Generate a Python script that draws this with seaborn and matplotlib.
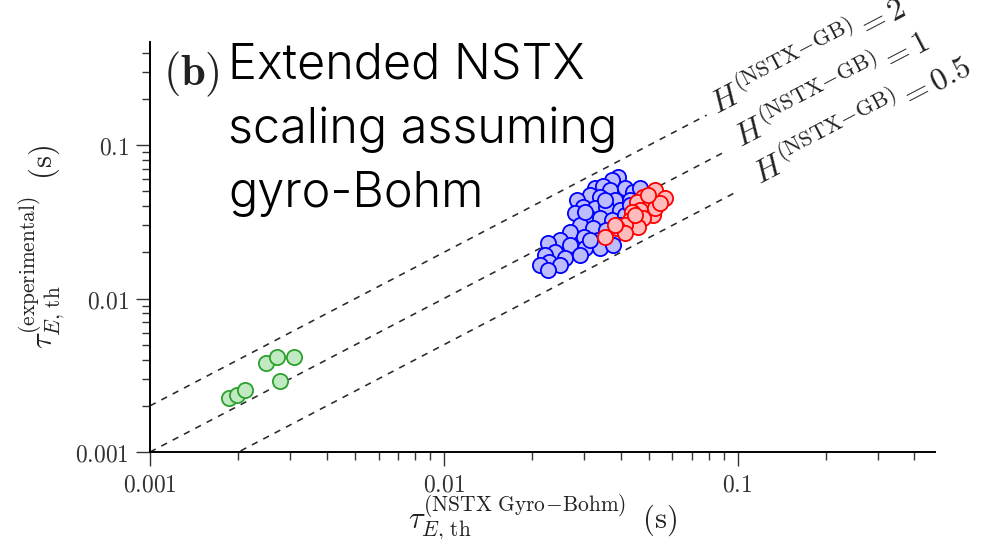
import numpy as np
import pandas as pd
import matplotlib
matplotlib.use("Agg")
import matplotlib.pyplot as plt
import seaborn as sns
from matplotlib.ticker import LogLocator, NullFormatter

# ---------------- data ----------------
blue_x = [0.0391, 0.0373, 0.0326, 0.0347, 0.0367, 0.0413, 0.0440, 0.0464, 0.0314, 0.0339,
          0.0382, 0.0429, 0.0283, 0.0297, 0.0326, 0.0358, 0.0397, 0.0279, 0.0309, 0.0339,
          0.0373, 0.0413, 0.0290, 0.0321, 0.0356, 0.0268, 0.0299, 0.0334, 0.0373, 0.0248,
          0.0226, 0.0268, 0.0302, 0.0339, 0.0239, 0.0221, 0.0258, 0.0290, 0.0229, 0.0248,
          0.0212, 0.0226, 0.0376, 0.0314, 0.0397, 0.0353, 0.0302, 0.0429]
blue_y = [0.0619, 0.0592, 0.0525, 0.0541, 0.0509, 0.0525, 0.0494, 0.0525, 0.0472, 0.0458,
          0.0438, 0.0438, 0.0438, 0.0395, 0.0389, 0.0395, 0.0377, 0.0361, 0.0340, 0.0335,
          0.0325, 0.0350, 0.0301, 0.0288, 0.0279, 0.0271, 0.0252, 0.0240, 0.0248, 0.0240,
          0.0230, 0.0223, 0.0213, 0.0213, 0.0201, 0.0192, 0.0184, 0.0192, 0.0173, 0.0165,
          0.0165, 0.0153, 0.0223, 0.0240, 0.0301, 0.0438, 0.0366, 0.0406]

red_x = [0.0522, 0.0565, 0.0475, 0.0454, 0.0502, 0.0464, 0.0436, 0.0514, 0.0475, 0.0429,
         0.0522, 0.0457, 0.0413, 0.0388, 0.0413, 0.0353, 0.0382, 0.0543, 0.0494, 0.0446]
red_y = [0.0509, 0.0452, 0.0458, 0.0425, 0.0406, 0.0377, 0.0366, 0.0350, 0.0335, 0.0325,
         0.0389, 0.0292, 0.0301, 0.0288, 0.0267, 0.0252, 0.0301, 0.0419, 0.0472, 0.0350]

green_x = [0.00186, 0.00198, 0.00210, 0.00248, 0.00270, 0.00309, 0.00277]
green_y = [0.00225, 0.00235, 0.00254, 0.00380, 0.00416, 0.00416, 0.00290]

h_values = [2, 1, 0.5]
h_labels = ["2", "1", "0.5"]
line_x_end = [0.0785, 0.090, 0.098]
label_x_start = [0.085, 0.103, 0.119]

tick_values = [0.001, 0.01, 0.1]
tick_labels = ["0.001", "0.01", "0.1"]
axis_min, axis_max = 0.001, 0.47

title_text = "Extended NSTX\nscaling assuming\ngyro-Bohm"

# ---------------- style ----------------
sns.set_theme(style="ticks")
plt.rcParams["font.family"] = ["DejaVu Sans"]
plt.rcParams["mathtext.fontset"] = "cm"

fig = plt.figure(figsize=(10, 5.39), dpi=100)
ax = fig.add_axes([0.15, 0.1614, 0.785, 0.7606])
ax.set_xscale("log")
ax.set_yscale("log")
ax.set_xlim(axis_min, axis_max)
ax.set_ylim(axis_min, axis_max)

# guide lines H = tau_exp / tau_scaling
for h, xe in zip(h_values, line_x_end):
    d = pd.DataFrame({"x": [axis_min, xe], "y": [h * axis_min, h * xe]})
    sns.lineplot(data=d, x="x", y="y", ax=ax, color="#2a2a2a", lw=1.15,
                 dashes=False, linestyle=(0, (4, 4)), legend=False)

# scatter groups
sns.scatterplot(x=green_x, y=green_y, ax=ax, s=120, color="#c2eac2",
                edgecolor="#2ca02c", linewidth=1.3, zorder=3)
sns.scatterplot(x=blue_x, y=blue_y, ax=ax, s=120, color="#bcbcff",
                edgecolor="#0000ff", linewidth=1.3, zorder=3)
sns.scatterplot(x=red_x, y=red_y, ax=ax, s=120, color="#ffbcbc",
                edgecolor="#ff0000", linewidth=1.3, zorder=4)

# axes styling
for side in ["top", "right"]:
    ax.spines[side].set_visible(False)
for side in ["left", "bottom"]:
    ax.spines[side].set_linewidth(1.4)
    ax.spines[side].set_color("black")

tick_lbls = [r"$\mathrm{%s}$" % t for t in tick_labels]
ax.set_xticks(tick_values, tick_lbls)
ax.set_yticks(tick_values, tick_lbls)
for axis in (ax.xaxis, ax.yaxis):
    axis.set_minor_locator(LogLocator(base=10, subs=np.arange(2, 10)))
    axis.set_minor_formatter(NullFormatter())
ax.tick_params(which="major", direction="out", length=10, width=1.0,
               color="#333333", labelsize=17, labelcolor="#333333", pad=5)
ax.tick_params(which="minor", direction="out", length=6, width=1.0, color="#333333")
ax.set_xlim(axis_min, axis_max)
ax.set_ylim(axis_min, axis_max)

ax.set_xlabel(r"$\tau_{E,\,\mathrm{th}}^{(\mathrm{NSTX\ Gyro\!-\!Bohm})}\;\;(\mathrm{s})$",
              fontsize=22, color="#222222", labelpad=-3)
ax.set_ylabel(r"$\tau_{E,\,\mathrm{th}}^{(\mathrm{experimental})}\;\;(\mathrm{s})$",
              fontsize=22, color="#222222", labelpad=6)

# line labels, rotated along the lines
fig.canvas.draw()
p1 = ax.transData.transform((0.01, 0.01))
p2 = ax.transData.transform((0.1, 0.1))
angle = np.degrees(np.arctan2(p2[1] - p1[1], p2[0] - p1[0]))
for h, lab, xs in zip(h_values, h_labels, label_x_start):
    ax.text(xs, h * xs * 0.93, r"$H^{(\mathrm{NSTX\!-\!GB})} = %s$" % lab,
            rotation=angle, rotation_mode="anchor", ha="left", va="baseline",
            fontsize=23, color="#222222", clip_on=False)

# panel tag and title
fig.text(0.163, 0.907, r"$\mathbf{(b)}$", fontsize=32, ha="left", va="top", color="#222222")
fig.text(0.228, 0.922, title_text, fontsize=35, ha="left", va="top", fontweight=300,
         family=["Inter", "DejaVu Sans"], color="black", linespacing=1.5)

fig.savefig("out.png", dpi=100)
